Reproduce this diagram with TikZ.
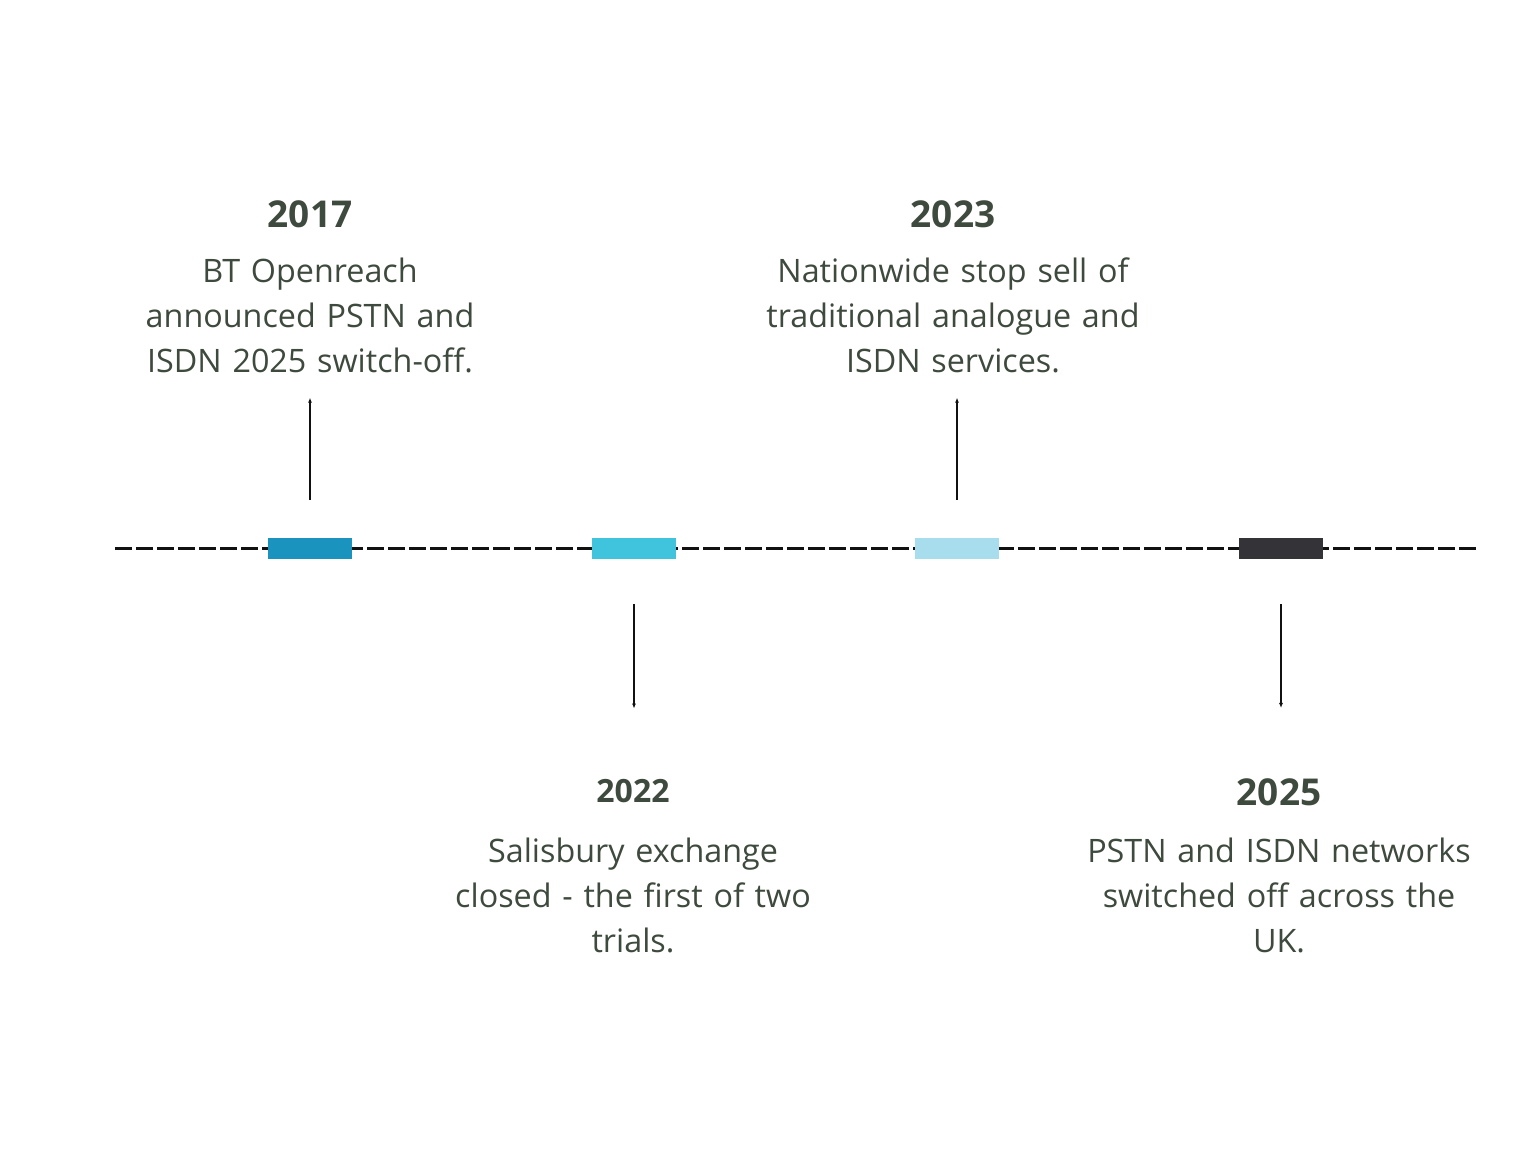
\documentclass[tikz,border=0pt]{standalone}
\usepackage{fontspec}
\setmainfont{Open Sans}
\usetikzlibrary{arrows.meta}
\definecolor{ink}{HTML}{3E4A3D}
\definecolor{rail}{HTML}{111111}
\definecolor{stageone}{HTML}{1A93BF}
\definecolor{stagetwo}{HTML}{40C4DE}
\definecolor{stagethree}{HTML}{A8DDED}
\definecolor{stagefour}{HTML}{333338}
\tikzset{
  year/.style={font=\bfseries\fontsize{37pt}{40pt}\selectfont,text=ink,anchor=base,inner sep=0pt},
  blurb/.style={font=\fontsize{32.3pt}{45pt}\selectfont,text=ink,align=center,text width=460pt,anchor=base,inner sep=0pt},
  marker/.style={minimum width=84pt,minimum height=21pt,inner sep=0pt},
  pointer/.style={-{Latex[length=5pt,width=4pt]},draw=rail,line width=1.5pt},
}

\begin{document}
\begin{tikzpicture}[x=1pt,y=1pt]
  \fill[white] (0,0) rectangle (1536,-1152);
  \useasboundingbox (0,0) rectangle (1536,-1152);

  % The dashed rail runs under the four coloured markers.
  \coordinate (railstart) at (115,-548.5);
  \coordinate (railend) at (1478,-548.5);
  \draw[rail,line width=3pt,dash pattern=on 17pt off 4pt] (railstart) -- (railend);
  \foreach \x/\yr/\col in {310/17/stageone,634/22/stagetwo,957/23/stagethree,1281/25/stagefour}
    \node[marker,fill=\col] (m\yr) at (\x,-548.5) {};

  % Milestones above the rail.
  \node[year] (y17) at (310,-227) {2017};
  \node[blurb] (t17) at (310,-282)
    {BT Openreach\\announced PSTN and\\ISDN 2025 switch-off.};
  \node[year] (y23) at (953,-227) {2023};
  \node[blurb] (t23) at (953,-282)
    {Nationwide stop sell of\\traditional analogue and\\ISDN services.};

  % Milestones below the rail.
  \node[year,font=\bfseries\fontsize{32pt}{36pt}\selectfont] (y22) at (633,-802) {2022};
  \node[blurb] (t22) at (633,-862)
    {Salisbury exchange\\closed - the first of two\\trials.};
  \node[year] (y25) at (1279,-805) {2025};
  \node[blurb] (t25) at (1279,-862)
    {PSTN and ISDN networks\\switched off across the\\UK.};

  % Pointers stay vertical above and below each marker.
  \draw[pointer] ([yshift=38pt]m17.north) -- ([yshift=-25pt]t17.south -| m17);
  \draw[pointer] ([yshift=38pt]m23.north) -- ([yshift=-25pt]t23.south -| m23);
  \draw[pointer] ([yshift=-45pt]m22.south) -- ([yshift=70pt]y22.north -| m22);
  \draw[pointer] ([yshift=-45pt]m25.south) -- ([yshift=70pt]y25.north -| m25);
\end{tikzpicture}
\end{document}
